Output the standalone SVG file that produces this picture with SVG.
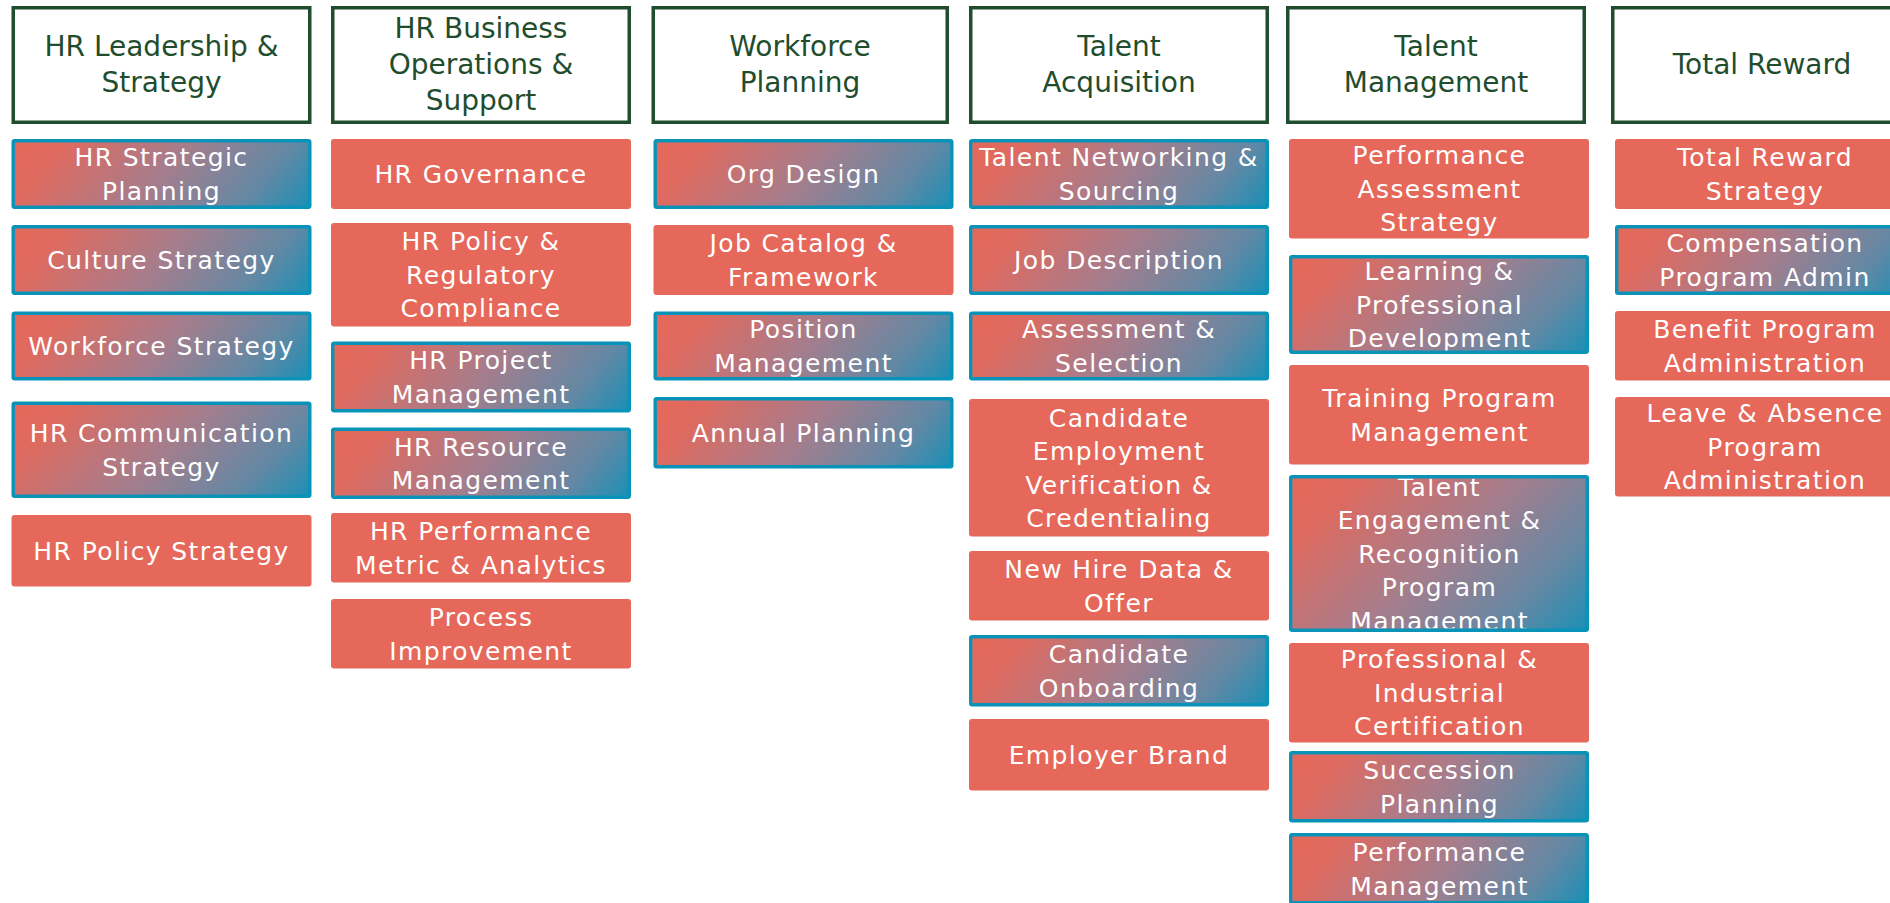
<svg xmlns="http://www.w3.org/2000/svg" width="1890" height="903" viewBox="0 0 1890 903">
<defs>
<linearGradient id="gA" x1="0" y1="0" x2="1.149" y2="0.218">
<stop offset="0" stop-color="#e5685a"/>
<stop offset="0.15" stop-color="#df6a5f"/>
<stop offset="0.5" stop-color="#a67d8c"/>
<stop offset="0.8" stop-color="#6488a4"/>
<stop offset="1" stop-color="#1a8fb6"/>
</linearGradient>
<linearGradient id="gB" href="#gA" x1="0" y1="0" x2="1.2" y2="0.38"/>
<linearGradient id="gC" href="#gA" x1="0" y1="0" x2="1.197" y2="0.619"/>
<clipPath id="clipTE"><rect x="1292.4" y="478.4" width="293.2" height="150.2"/></clipPath>
<style>
.hd rect{fill:#ffffff;stroke:#1f4d2d;stroke-width:3.5}
.hd text{fill:#1f4d2d;font-family:"DejaVu Sans","Open Sans",sans-serif;font-size:28px;text-anchor:middle}
.pl rect{fill:#e5685a}
.gd rect{fill:url(#gA);stroke:none}
.gd rect.tB{fill:url(#gB)}
.gd rect.tC{fill:url(#gC)}
.gd rect.b{fill:none;stroke:#0993b8;stroke-width:3.4}
.pl text,.gd text{fill:#ffffff;font-family:"DejaVu Sans","Open Sans",sans-serif;font-size:25px;letter-spacing:1.4px;text-anchor:middle}
</style>
</defs>
<rect width="1890" height="903" fill="#ffffff"/>
<g id="connectors"/>

<!-- Headers -->
<g id="h1" class="hd"><rect x="13.25" y="7.75" width="296.5" height="114.5"/><text x="161.5" y="56">HR Leadership &amp;</text><text x="161.5" y="92">Strategy</text></g>
<g id="h2" class="hd"><rect x="332.75" y="7.75" width="296.5" height="114.5"/><text x="481" y="38">HR Business</text><text x="481" y="74">Operations &amp;</text><text x="481" y="110">Support</text></g>
<g id="h3" class="hd"><rect x="653.25" y="7.75" width="294" height="114.5"/><text x="800" y="56">Workforce</text><text x="800" y="92">Planning</text></g>
<g id="h4" class="hd"><rect x="970.75" y="7.75" width="296.5" height="114.5"/><text x="1119" y="56">Talent</text><text x="1119" y="92">Acquisition</text></g>
<g id="h5" class="hd"><rect x="1287.75" y="7.75" width="296.5" height="114.5"/><text x="1436" y="56">Talent</text><text x="1436" y="92">Management</text></g>
<g id="h6" class="hd"><rect x="1612.75" y="7.75" width="296.5" height="114.5"/><text x="1762" y="74">Total Reward</text></g>

<!-- Column 1 -->
<g id="c1n1" class="gd"><rect x="13.2" y="140.7" width="296.6" height="66.6"/><text x="161.5" y="166.25">HR Strategic</text><text x="161.5" y="199.75">Planning</text><rect class="b" x="13.2" y="140.7" width="296.6" height="66.6" rx="1.5"/></g>
<g id="c1n2" class="gd"><rect x="13.2" y="226.7" width="296.6" height="66.6"/><text x="161.5" y="269">Culture Strategy</text><rect class="b" x="13.2" y="226.7" width="296.6" height="66.6" rx="1.5"/></g>
<g id="c1n3" class="gd"><rect x="13.2" y="313.2" width="296.6" height="65.6"/><text x="161.5" y="355">Workforce Strategy</text><rect class="b" x="13.2" y="313.2" width="296.6" height="65.6" rx="1.5"/></g>
<g id="c1n4" class="gd"><rect class="tB" x="13.2" y="403.2" width="296.6" height="93.1"/><text x="161.5" y="442">HR Communication</text><text x="161.5" y="475.5">Strategy</text><rect class="b" x="13.2" y="403.2" width="296.6" height="93.1" rx="1.5"/></g>
<g id="c1n5" class="pl"><rect x="11.5" y="515" width="300" height="71.5" rx="3"/><text x="161.5" y="559.75">HR Policy Strategy</text></g>

<!-- Column 2 -->
<g id="c2n1" class="pl"><rect x="331" y="139" width="300" height="70" rx="3"/><text x="481" y="183">HR Governance</text></g>
<g id="c2n2" class="pl"><rect x="331" y="223" width="300" height="103.5" rx="3"/><text x="481" y="250.25">HR Policy &amp;</text><text x="481" y="283.75">Regulatory</text><text x="481" y="317.25">Compliance</text></g>
<g id="c2n3" class="gd"><rect x="332.7" y="343.2" width="296.6" height="67.6"/><text x="481" y="369.25">HR Project</text><text x="481" y="402.75">Management</text><rect class="b" x="332.7" y="343.2" width="296.6" height="67.6" rx="1.5"/></g>
<g id="c2n4" class="gd"><rect x="332.7" y="429.2" width="296.6" height="68.1"/><text x="481" y="455.5">HR Resource</text><text x="481" y="489">Management</text><rect class="b" x="332.7" y="429.2" width="296.6" height="68.1" rx="1.5"/></g>
<g id="c2n5" class="pl"><rect x="331" y="513" width="300" height="69.5" rx="3"/><text x="481" y="540">HR Performance</text><text x="481" y="573.5">Metric &amp; Analytics</text></g>
<g id="c2n6" class="pl"><rect x="331" y="599" width="300" height="69.5" rx="3"/><text x="481" y="626">Process</text><text x="481" y="659.5">Improvement</text></g>

<!-- Column 3 -->
<g id="c3n1" class="gd"><rect x="655.2" y="140.7" width="296.6" height="66.6"/><text x="803.5" y="183">Org Design</text><rect class="b" x="655.2" y="140.7" width="296.6" height="66.6" rx="1.5"/></g>
<g id="c3n2" class="pl"><rect x="653.5" y="225" width="300" height="70" rx="3"/><text x="803.5" y="252.25">Job Catalog &amp;</text><text x="803.5" y="285.75">Framework</text></g>
<g id="c3n3" class="gd"><rect x="655.2" y="313.2" width="296.6" height="65.6"/><text x="803.5" y="338.25">Position</text><text x="803.5" y="371.75">Management</text><rect class="b" x="655.2" y="313.2" width="296.6" height="65.6" rx="1.5"/></g>
<g id="c3n4" class="gd"><rect x="655.2" y="398.7" width="296.6" height="68.1"/><text x="803.5" y="441.75">Annual Planning</text><rect class="b" x="655.2" y="398.7" width="296.6" height="68.1" rx="1.5"/></g>

<!-- Column 4 -->
<g id="c4n1" class="gd"><rect x="970.7" y="140.7" width="296.6" height="66.6"/><text x="1119" y="166.25">Talent Networking &amp;</text><text x="1119" y="199.75">Sourcing</text><rect class="b" x="970.7" y="140.7" width="296.6" height="66.6" rx="1.5"/></g>
<g id="c4n2" class="gd"><rect x="970.7" y="226.7" width="296.6" height="66.6"/><text x="1119" y="269">Job Description</text><rect class="b" x="970.7" y="226.7" width="296.6" height="66.6" rx="1.5"/></g>
<g id="c4n3" class="gd"><rect x="970.7" y="313.2" width="296.6" height="65.6"/><text x="1119" y="338.25">Assessment &amp;</text><text x="1119" y="371.75">Selection</text><rect class="b" x="970.7" y="313.2" width="296.6" height="65.6" rx="1.5"/></g>
<g id="c4n4" class="pl"><rect x="969" y="399" width="300" height="137.5" rx="3"/><text x="1119" y="426.5">Candidate</text><text x="1119" y="460">Employment</text><text x="1119" y="493.5">Verification &amp;</text><text x="1119" y="527">Credentialing</text></g>
<g id="c4n5" class="pl"><rect x="969" y="551" width="300" height="69.5" rx="3"/><text x="1119" y="578">New Hire Data &amp;</text><text x="1119" y="611.5">Offer</text></g>
<g id="c4n6" class="gd"><rect x="970.7" y="636.7" width="296.6" height="68.1"/><text x="1119" y="663">Candidate</text><text x="1119" y="696.5">Onboarding</text><rect class="b" x="970.7" y="636.7" width="296.6" height="68.1" rx="1.5"/></g>
<g id="c4n7" class="pl"><rect x="969" y="719" width="300" height="71.5" rx="3"/><text x="1119" y="763.75">Employer Brand</text></g>

<!-- Column 5 -->
<g id="c5n1" class="pl"><rect x="1289" y="139" width="300" height="99.5" rx="3"/><text x="1439.5" y="164.25">Performance</text><text x="1439.5" y="197.75">Assessment</text><text x="1439.5" y="231.25">Strategy</text></g>
<g id="c5n2" class="gd"><rect class="tB" x="1290.7" y="256.7" width="296.6" height="95.6"/><text x="1439.5" y="280">Learning &amp;</text><text x="1439.5" y="313.5">Professional</text><text x="1439.5" y="347">Development</text><rect class="b" x="1290.7" y="256.7" width="296.6" height="95.6" rx="1.5"/></g>
<g id="c5n3" class="pl"><rect x="1289" y="365" width="300" height="99.5" rx="3"/><text x="1439.5" y="407">Training Program</text><text x="1439.5" y="440.5">Management</text></g>
<g id="c5n4" class="gd"><rect class="tC" x="1290.7" y="476.7" width="296.6" height="153.6"/><g clip-path="url(#clipTE)"><text x="1439.5" y="495.5">Talent</text><text x="1439.5" y="529">Engagement &amp;</text><text x="1439.5" y="562.5">Recognition</text><text x="1439.5" y="596">Program</text><text x="1439.5" y="629.5">Management</text></g><rect class="b" x="1290.7" y="476.7" width="296.6" height="153.6" rx="1.5"/></g>
<g id="c5n5" class="pl"><rect x="1289" y="643" width="300" height="99.5" rx="3"/><text x="1439.5" y="668.25">Professional &amp;</text><text x="1439.5" y="701.75">Industrial</text><text x="1439.5" y="735.25">Certification</text></g>
<g id="c5n6" class="gd"><rect x="1290.7" y="752.7" width="296.6" height="68.1"/><text x="1439.5" y="779">Succession</text><text x="1439.5" y="812.5">Planning</text><rect class="b" x="1290.7" y="752.7" width="296.6" height="68.1" rx="1.5"/></g>
<g id="c5n7" class="gd"><rect x="1290.7" y="834.7" width="296.6" height="68.1"/><text x="1439.5" y="861">Performance</text><text x="1439.5" y="894.5">Management</text><rect class="b" x="1290.7" y="834.7" width="296.6" height="68.1" rx="1.5"/></g>

<!-- Column 6 -->
<g id="c6n1" class="pl"><rect x="1615" y="139" width="300" height="70" rx="3"/><text x="1765" y="166.25">Total Reward</text><text x="1765" y="199.75">Strategy</text></g>
<g id="c6n2" class="gd"><rect x="1616.7" y="226.7" width="296.6" height="66.6"/><text x="1765" y="252.25">Compensation</text><text x="1765" y="285.75">Program Admin</text><rect class="b" x="1616.7" y="226.7" width="296.6" height="66.6" rx="1.5"/></g>
<g id="c6n3" class="pl"><rect x="1615" y="311" width="300" height="69.5" rx="3"/><text x="1765" y="338">Benefit Program</text><text x="1765" y="371.5">Administration</text></g>
<g id="c6n4" class="pl"><rect x="1615" y="397" width="300" height="99.5" rx="3"/><text x="1765" y="422.25">Leave &amp; Absence</text><text x="1765" y="455.75">Program</text><text x="1765" y="489.25">Administration</text></g>
</svg>
